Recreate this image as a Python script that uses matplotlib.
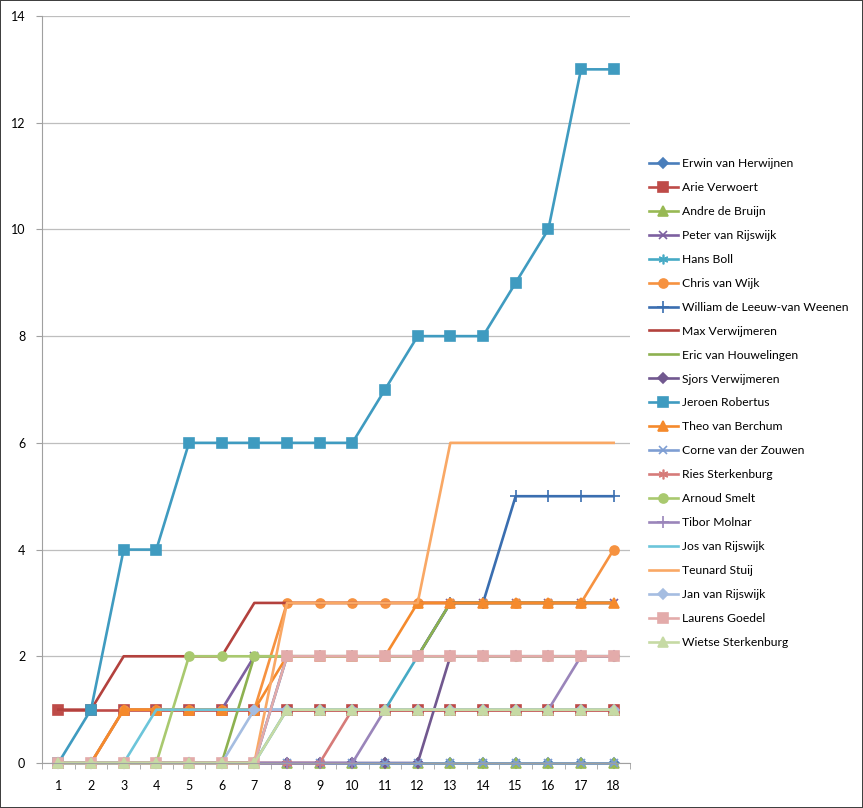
import numpy as np
import matplotlib
matplotlib.use("Agg")
import matplotlib.pyplot as plt

plt.rcParams['font.family'] = ['Lato', 'DejaVu Sans']

# ronde 1..18, cumulatieve stand per speler
rondes = list(range(1, 19))

erwin   = [0]*18
arie    = [1]*18
andre   = [0]*18
peter   = [0, 0, 1, 1, 1, 1, 2, 2, 2, 2, 2, 2, 3, 3, 3, 3, 3, 3]
hans    = [0, 0, 0, 0, 0, 0, 0, 1, 1, 1, 1, 2, 2, 2, 2, 2, 2, 2]
chris   = [0, 0, 1, 1, 1, 1, 1, 3, 3, 3, 3, 3, 3, 3, 3, 3, 3, 4]
william = [0, 0, 0, 0, 0, 0, 0, 2, 2, 2, 2, 2, 3, 3, 5, 5, 5, 5]
max_v   = [1, 1, 2, 2, 2, 2, 3, 3, 3, 3, 3, 3, 3, 3, 3, 3, 3, 3]
eric    = [0, 0, 0, 0, 0, 0, 2, 2, 2, 2, 2, 2, 3, 3, 3, 3, 3, 3]
sjors   = [0, 0, 0, 0, 0, 0, 0, 0, 0, 0, 0, 0, 2, 2, 2, 2, 2, 2]
jeroen  = [0, 1, 4, 4, 6, 6, 6, 6, 6, 6, 7, 8, 8, 8, 9, 10, 13, 13]
theo    = [0, 0, 1, 1, 1, 1, 1, 2, 2, 2, 2, 3, 3, 3, 3, 3, 3, 3]
corne   = [0]*18
ries    = [0, 0, 0, 0, 0, 0, 0, 0, 0, 1, 1, 1, 1, 1, 1, 1, 1, 1]
arnoud  = [0, 0, 0, 0, 2, 2, 2, 2, 2, 2, 2, 2, 2, 2, 2, 2, 2, 2]
tibor   = [0, 0, 0, 0, 0, 0, 0, 0, 0, 0, 1, 1, 1, 1, 1, 1, 2, 2]
jos     = [0, 0, 0, 1, 1, 1, 1, 1, 1, 1, 1, 1, 1, 1, 1, 1, 1, 1]
teunard = [0, 0, 0, 0, 0, 0, 0, 3, 3, 3, 3, 3, 6, 6, 6, 6, 6, 6]
jan     = [0, 0, 0, 0, 0, 0, 1, 1, 1, 1, 1, 1, 1, 1, 1, 1, 1, 1]
laurens = [0, 0, 0, 0, 0, 0, 0, 2, 2, 2, 2, 2, 2, 2, 2, 2, 2, 2]
wietse  = [0, 0, 0, 0, 0, 0, 0, 1, 1, 1, 1, 1, 1, 1, 1, 1, 1, 1]

namen = ["Erwin van Herwijnen", "Arie Verwoert", "Andre de Bruijn", "Peter van Rijswijk",
         "Hans Boll", "Chris van Wijk", "William de Leeuw-van Weenen", "Max Verwijmeren",
         "Eric van Houwelingen", "Sjors Verwijmeren", "Jeroen Robertus", "Theo van Berchum",
         "Corne van der Zouwen", "Ries Sterkenburg", "Arnoud Smelt", "Tibor Molnar",
         "Jos van Rijswijk", "Teunard Stuij", "Jan van Rijswijk", "Laurens Goedel",
         "Wietse Sterkenburg"]
reeksen = [erwin, arie, andre, peter, hans, chris, william, max_v, eric, sjors, jeroen,
           theo, corne, ries, arnoud, tibor, jos, teunard, jan, laurens, wietse]

ster = (6, 2, 0)
stijl = [
    ('#4A7EBB', 'D', 5.5), ('#BE4B48', 's', 6.5), ('#98B954', '^', 6.5), ('#7D60A0', 'x', 6),
    ('#46AAC5', ster, 7), ('#F69240', 'o', 6.5), ('#3A6EB0', '+', 8), ('#B3413D', None, 0),
    ('#8DB150', None, 0), ('#71588F', 'D', 5.5), ('#3F9BC0', 's', 6.5), ('#F58A2C', '^', 6.5),
    ('#7E9ED3', 'x', 6), ('#D67B79', ster, 7), ('#A9C96F', 'o', 6.5), ('#9A85BA', '+', 8),
    ('#6CC5DA', None, 0), ('#F9A865', None, 0), ('#A5BDE1', 'D', 5.5), ('#E3ABAA', 's', 6.5),
    ('#C6DAA4', '^', 6.5),
]

fig = plt.figure(figsize=(8.63, 8.08), dpi=100, edgecolor='#404040', linewidth=1.2)
ax = fig.add_axes([42/863, 45/808, 588/863, 747/808])

for naam, y, (kleur, mk, ms) in zip(namen, reeksen, stijl):
    ax.plot(rondes, y, color=kleur, lw=1.9, marker=mk, ms=ms,
            mfc=kleur, mec=kleur, mew=1.2, label=naam, clip_on=False)

ax.set_xlim(0.5, 18.5)
ax.set_ylim(0, 14)
ax.set_xticks(rondes)
ax.set_xticks(np.arange(0.5, 19, 1), minor=True)
ax.set_yticks(range(0, 15, 2))
ax.tick_params(axis='x', which='major', length=0, pad=12, labelsize=9)
ax.tick_params(axis='x', which='minor', length=4, color='#A0A0A0', direction='out')
ax.tick_params(axis='y', length=4, color='#A0A0A0', labelsize=9, pad=8)
ax.yaxis.grid(True, color='#BEBEBE', lw=0.9)
ax.set_axisbelow(True)
for s in ['top', 'right']:
    ax.spines[s].set_visible(False)
ax.spines['left'].set_color('#A0A0A0')
ax.spines['bottom'].set_color('#A0A0A0')

fig.legend(loc='center left', bbox_to_anchor=(638/863, 1 - 403/808), frameon=False,
           fontsize=8.7, labelspacing=1.07, handlelength=2.4, handletextpad=0.3)

fig.savefig("out.png", dpi=100)
